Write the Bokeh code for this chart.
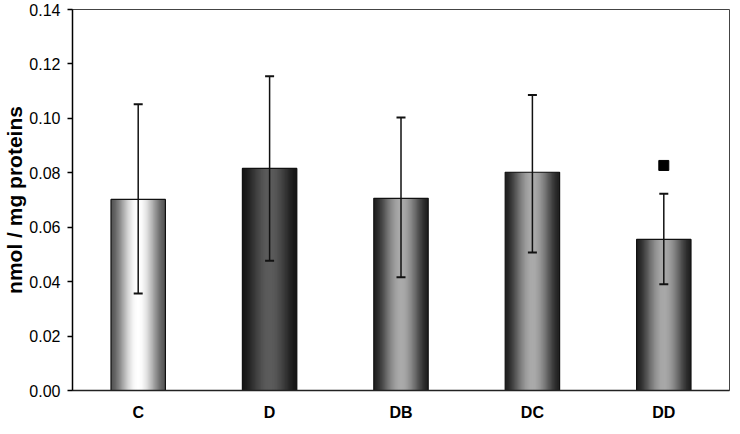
import numpy as np
from bokeh.plotting import figure
from bokeh.models import (Range1d, FixedTicker, NumeralTickFormatter, Whisker,
                          ColumnDataSource, TeeHead)
from bokeh.embed import file_html
from bokeh.resources import INLINE

# ---- data ----
categories = ["C", "D", "DB", "DC", "DD"]
means = [0.0702, 0.0816, 0.0706, 0.0802, 0.0555]
err_upper = [0.1052, 0.1155, 0.1003, 0.1086, 0.0723]
err_lower = [0.0356, 0.0477, 0.0416, 0.0507, 0.0390]
marker_cat = ["DD"]
marker_val = [0.0827]
y_ticks = [0.00, 0.02, 0.04, 0.06, 0.08, 0.10, 0.12, 0.14]

# ---- style: gradient (cylinder-like) shading per bar (edge gray, center gray) ----
shade = {"C": (85, 255), "D": (22, 92), "DB": (32, 170), "DC": (32, 170), "DD": (32, 168)}
BAR_W = 0.414
N_STRIPS = 44

FONT = "Liberation Sans"

p = figure(width=732, height=426, output_backend="svg", toolbar_location=None,
           x_range=Range1d(-0.5, 4.5), y_range=Range1d(0, 0.14),
           min_border_left=65, min_border_right=3, min_border_top=9,
           min_border_bottom=36)
p.background_fill_color = "white"
p.border_fill_color = "white"
p.outline_line_color = "#444444"
p.outline_line_width = 1
p.xgrid.visible = False
p.ygrid.visible = False

xpos = {c: i for i, c in enumerate(categories)}

# gradient strips (overlapping to avoid seams)
dw = BAR_W / N_STRIPS
left, right, top, colors = [], [], [], []
for c, m in zip(categories, means):
    lo, hi = shade[c]
    x0 = xpos[c] - BAR_W / 2
    for k in range(N_STRIPS):
        t = (k + 0.5) / N_STRIPS
        g = lo + (hi - lo) * np.sin(np.pi * t) ** 1.6
        g = int(round(min(255, max(0, g))))
        left.append(x0 + k * dw)
        right.append(min(x0 + BAR_W, x0 + (k + 1) * dw + 0.8 * dw))
        top.append(m)
        colors.append("#%02x%02x%02x" % (g, g, g))
p.quad(left=left, right=right, bottom=0, top=top, fill_color=colors, line_color=None)

# bar outlines
p.vbar(x=[xpos[c] for c in categories], width=BAR_W, top=means, bottom=0,
       fill_alpha=0, line_color="#111111", line_width=1.2)

# error bars
src = ColumnDataSource(dict(x=[xpos[c] for c in categories], upper=err_upper, lower=err_lower))
w = Whisker(source=src, base="x", upper="upper", lower="lower",
            line_color="#111111", line_width=1.5, level="overlay",
            upper_head=TeeHead(size=9, line_color="#111111", line_width=2),
            lower_head=TeeHead(size=9, line_color="#111111", line_width=2))
p.add_layout(w)

# significance marker
p.scatter(x=[xpos[c] for c in marker_cat], y=marker_val, marker="square", size=10,
          fill_color="black", line_color="black")

# axes
p.xaxis.ticker = FixedTicker(ticks=list(range(len(categories))))
p.xaxis.major_label_overrides = {i: c for i, c in enumerate(categories)}
p.xaxis.major_tick_line_color = None
p.xaxis.minor_tick_line_color = None
p.xaxis.axis_line_color = "#222222"
p.xaxis.axis_line_width = 1.5
p.xaxis.major_label_text_font = FONT
p.xaxis.major_label_text_font_style = "bold"
p.xaxis.major_label_text_font_size = "16px"
p.xaxis.major_label_text_color = "black"
p.xaxis.major_label_standoff = 7

p.yaxis.ticker = FixedTicker(ticks=y_ticks)
p.yaxis.formatter = NumeralTickFormatter(format="0.00")
p.yaxis.minor_tick_line_color = None
p.yaxis.major_tick_in = 0
p.yaxis.major_tick_out = 5
p.yaxis.major_tick_line_color = "black"
p.yaxis.major_tick_line_width = 1.5
p.yaxis.axis_line_color = "black"
p.yaxis.axis_line_width = 1.5
p.yaxis.major_label_text_font = FONT
p.yaxis.major_label_text_font_size = "16px"
p.yaxis.major_label_text_color = "black"
p.yaxis.major_label_standoff = 7
p.yaxis.axis_label = "nmol / mg proteins"
p.yaxis.axis_label_text_font = FONT
p.yaxis.axis_label_text_font_style = "bold"
p.yaxis.axis_label_text_font_size = "21px"
p.yaxis.axis_label_text_color = "black"
p.yaxis.axis_label_standoff = 0

open("out.html", "w").write(file_html(p, INLINE))
